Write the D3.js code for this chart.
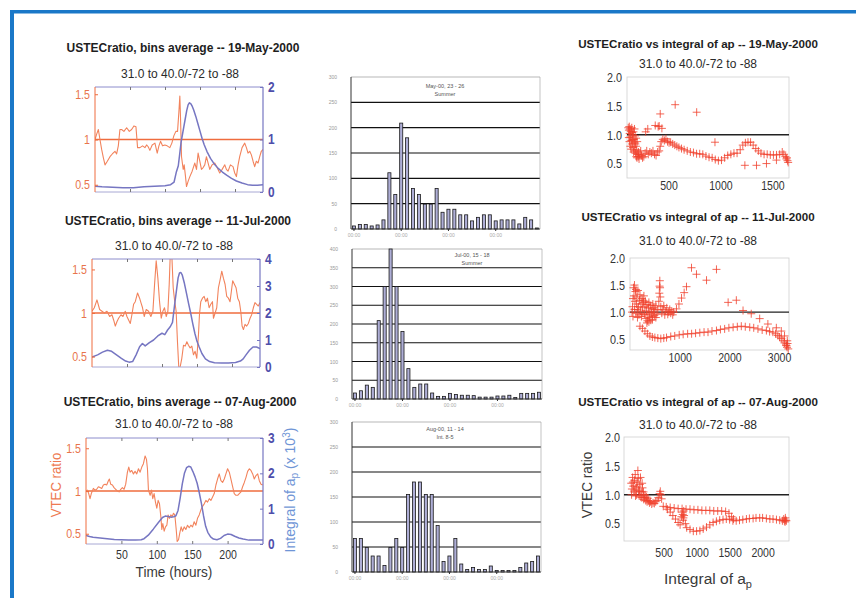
<!DOCTYPE html>
<html>
<head>
<meta charset="utf-8">
<script src="https://cdn.jsdelivr.net/npm/d3@7"></script>
<style>
body { margin: 0; background: #fff; }
svg { display: block; font-family: "Liberation Sans", Arial, sans-serif; }
</style>
</head>
<body>
<svg id="fig" width="856" height="598"></svg>
<script>
/*
 *  DATA
 */
// left column: [hour, VTEC ratio] and [hour, integral of ap (x 10^3)]
var may19Ratio = [[0,1.00],[2.4,1.06],[4.8,1.11],[7.1,1.00],[9.5,0.89],[11.9,0.80],[14.3,0.72],[17.6,0.76],[21.4,0.81],[24.7,0.84],[28.5,0.87],[30.9,0.84],[33.3,0.93],[35.6,1.11],[38,1.11],[41.3,1.09],[45.2,1.13],[49,1.09],[52.3,1.11],[55.6,1.15],[58.5,1.14],[60.8,0.91],[64.2,0.91],[68,0.93],[71.3,0.91],[73.7,0.94],[76,0.92],[78.4,0.88],[81.7,0.94],[85.6,0.96],[88.9,0.85],[91.3,0.93],[93.6,0.98],[96.5,0.93],[99.8,0.94],[103.1,0.93],[106.9,0.91],[109.8,0.96],[112.6,1.04],[115.5,1.09],[117.9,1.09],[119.8,1.30],[121.2,1.48],[122.1,1.26],[123.6,0.81],[126,0.67],[127.4,0.72],[129.3,0.59],[130.7,0.48],[133.1,0.54],[135.5,0.59],[138.8,0.65],[142.6,0.74],[145,0.67],[147.3,0.85],[149.7,0.76],[152.1,0.67],[154.5,0.69],[156.8,0.72],[159.2,0.81],[161.6,0.74],[164,0.67],[167.3,0.72],[171.1,0.74],[174.4,0.69],[178.2,0.63],[181.6,0.67],[185.4,0.72],[187.7,0.67],[190.1,0.65],[193.4,0.72],[197.2,0.70],[199.6,0.63],[202,0.59],[204.4,0.72],[206.7,0.81],[210.1,0.91],[213.9,0.96],[216.3,0.91],[218.6,0.85],[221,0.87],[223.4,0.83],[225.8,0.76],[228.1,0.70],[230.5,0.76],[232.9,0.74],[235.3,0.81],[237.6,0.87],[240,0.89]];
var may19Integral = [[0,0.11],[10,0.10],[25,0.09],[40,0.08],[55,0.08],[70,0.10],[85,0.11],[100,0.12],[108,0.14],[113,0.19],[116,0.37],[119,0.50],[121,0.72],[123,0.95],[125,1.10],[127,1.25],[129,1.40],[131,1.55],[133,1.66],[135,1.70],[137,1.68],[139,1.63],[141,1.56],[144,1.44],[147,1.30],[150,1.16],[153,1.02],[156,0.90],[160,0.77],[165,0.64],[170,0.54],[176,0.45],[182,0.38],[188,0.32],[195,0.26],[202,0.21],[210,0.17],[218,0.14],[225,0.13],[232,0.13],[240,0.14]];

var jul11Ratio = [[0,1.02],[3.3,1.06],[7.1,1.15],[10.9,1.04],[14.3,1.02],[17.6,1.00],[21.4,1.02],[25.2,0.96],[28.5,0.98],[30.9,0.92],[33.3,0.85],[35.6,0.90],[38,0.94],[41.4,0.98],[44.2,0.96],[47.5,1.02],[49.9,0.96],[52.3,0.92],[54.7,0.88],[57,0.98],[59.4,1.10],[61.8,1.13],[65.1,1.23],[68,1.17],[69.9,1.12],[72.2,1.06],[74.6,0.96],[77.5,1.04],[80.8,1.02],[84.1,0.96],[87,1.02],[89.4,1.33],[91.7,1.60],[94.1,1.40],[96.5,1.13],[98.9,0.94],[101.2,1.02],[103.6,1.06],[106,0.96],[108.4,1.02],[110.3,1.33],[111.7,1.65],[114.1,1.65],[116,1.29],[117.9,1.15],[120.2,1.02],[122.1,0.67],[124,0.37],[125.9,0.38],[128.3,0.48],[130.7,0.63],[133.1,0.62],[135.5,0.67],[137.8,0.63],[140.2,0.60],[142.6,0.62],[145,0.52],[147.3,0.56],[149.7,0.48],[152.1,0.75],[153.5,0.98],[155.4,1.13],[157.8,1.17],[160.2,1.19],[162.5,1.13],[164.9,1.17],[167.3,1.06],[169.7,1.10],[172.1,1.13],[173.5,0.94],[175.9,1.00],[178.2,1.06],[180.6,1.29],[183,1.38],[185.4,1.48],[187.7,1.40],[190.1,1.33],[192.5,1.19],[194.9,1.17],[197.2,1.13],[199.1,1.25],[201,1.37],[203.4,1.33],[205.8,1.29],[208.2,1.17],[210.5,1.13],[212.5,1.02],[214.4,0.85],[216.3,0.81],[218.6,0.87],[221,0.85],[223.4,0.88],[225.8,0.94],[228.1,0.98],[230.5,1.06],[232.8,1.12],[235.2,1.10],[237.6,1.08],[240,1.12]];
var jul11Integral = [[0,0.37],[8,0.45],[15,0.55],[22,0.62],[28,0.58],[35,0.45],[42,0.32],[48,0.22],[53,0.18],[58,0.20],[63,0.45],[68,0.75],[72,0.87],[76,0.78],[82,0.90],[88,1.00],[94,1.15],[100,1.25],[104,1.20],[108,1.37],[112,1.50],[115,1.65],[118,2.30],[121,2.90],[123,3.30],[125,3.48],[127,3.50],[129,3.40],[132,3.10],[135,2.73],[138,2.35],[141,1.99],[144,1.60],[147,1.24],[150,0.95],[153,0.75],[157,0.50],[162,0.30],[168,0.20],[175,0.16],[185,0.15],[195,0.15],[205,0.17],[212,0.22],[216,0.30],[220,0.45],[225,0.62],[230,0.74],[235,0.74],[240,0.68]];

var aug07Ratio = [[0,0.99],[1.9,1.01],[3.8,0.97],[5.7,0.91],[7.5,0.97],[10.4,1.03],[12.7,1.01],[15.1,1.02],[17.5,1.05],[19.8,1.04],[22.2,1.03],[24.5,1.07],[26.9,1.08],[29.2,1.07],[31.6,1.12],[33,1.14],[34.9,1.08],[37.3,1.07],[39.6,1.04],[42,1.02],[44.3,1.00],[46.7,0.99],[49.1,1.02],[51.4,1.04],[53.8,1.02],[56.1,1.08],[58.5,1.22],[60.4,1.28],[62.3,1.22],[64.6,1.24],[67,1.20],[69.3,1.23],[71.7,1.20],[74.1,1.26],[76.4,1.22],[78.8,1.28],[81.1,1.32],[83.5,1.41],[85.4,1.37],[86.8,1.26],[88.2,1.01],[90.6,0.95],[92.5,1.01],[94.3,0.91],[96.2,0.97],[98.1,0.87],[100,0.80],[101.9,0.89],[103.8,0.85],[105.7,0.70],[107.1,0.55],[108.5,0.62],[110.4,0.53],[112.3,0.58],[114.2,0.60],[116,0.72],[117.9,0.68],[119.8,0.72],[121.7,0.70],[123.6,0.74],[125.5,0.72],[127.4,0.55],[128.8,0.41],[130.7,0.43],[132.5,0.51],[134.4,0.58],[136.3,0.53],[138.7,0.58],[141,0.55],[143.4,0.60],[145.8,0.57],[148.1,0.60],[150.5,0.58],[152.8,0.64],[155.2,0.60],[157.5,0.68],[159.9,0.72],[162.3,0.78],[164.6,0.82],[167,0.85],[169.3,0.89],[171.7,0.87],[174.1,0.91],[176.4,0.89],[178.8,0.93],[181.1,0.97],[183.5,1.07],[185.8,1.14],[188.2,1.20],[190.6,1.12],[192.9,1.10],[195.3,1.14],[197.6,1.20],[200,1.26],[202.4,1.22],[204.7,1.14],[207.1,1.05],[209.4,0.97],[211.8,0.95],[214.2,0.95],[216.5,0.97],[218.9,0.99],[221.2,1.05],[223.6,1.10],[226,1.16],[228.3,1.23],[230.7,1.26],[233,1.24],[235.4,1.20],[237.7,1.14],[240.1,1.18],[242.5,1.20],[244.8,1.12],[247.2,1.08],[249.5,1.07]];
var aug07Integral = [[0,0.24],[5,0.21],[10,0.19],[20,0.17],[30,0.15],[40,0.13],[50,0.12],[60,0.11],[70,0.11],[78,0.12],[82,0.15],[88,0.25],[95,0.42],[102,0.60],[108,0.75],[112,0.79],[116,0.78],[120,0.76],[124,0.77],[127,0.80],[130,0.95],[133,1.30],[136,1.70],[139,2.00],[142,2.16],[145,2.20],[148,2.18],[151,2.05],[154,1.90],[157,1.72],[160,1.45],[163,1.15],[166,0.80],[169,0.50],[172,0.33],[176,0.20],[180,0.14],[185,0.12],[190,0.16],[195,0.24],[200,0.28],[205,0.27],[210,0.22],[216,0.17],[222,0.14],[230,0.11],[240,0.11],[250,0.11]];

// middle column: counts per 3-hour bin over four days
var histHours = d3.range(0, 96, 3);
var may23Counts = [6,9,9,6,8,18,111,68,209,180,80,68,49,49,80,33,39,39,28,28,16,23,28,28,16,18,18,18,10,23,18,2];
var jul15Counts = [16,22,37,31,209,300,400,300,180,81,31,40,40,16,7,7,15,12,10,10,9,5,5,5,8,8,10,4,15,15,15,18];
var aug11Counts = [67,67,49,32,32,13,49,67,49,155,180,180,155,155,93,21,32,67,16,5,9,5,5,12,3,3,3,3,9,18,21,32];

// right column: [integral of ap, VTEC ratio]
var may19Scatter = [[112,1.12],[118,1.08],[122,1.14],[126,1.02],[130,1.10],[134,0.96],[138,1.06],[142,0.90],[146,1.12],[150,0.84],[154,1.00],[158,0.78],[162,1.05],[166,0.92],[170,0.72],[174,0.86],[178,0.98],[182,0.68],[186,0.80],[190,0.62],[194,0.74],[198,0.88],[204,0.66],[210,0.70],[118,0.95],[124,0.88],[132,0.80],[140,0.75],[148,1.04],[156,0.92],[164,0.70],[172,1.10],[180,0.84],[188,0.94],[196,0.60],[208,0.62],[216,0.58],[224,0.66],[232,0.72],[240,0.64],[250,0.60],[262,0.62],[275,0.68],[290,0.72],[305,0.66],[320,0.70],[335,0.68],[350,0.72],[365,0.66],[380,0.64],[395,0.70],[410,0.72],[420,0.80],[430,0.88],[445,0.92],[460,0.90],[475,0.93],[490,0.88],[505,0.86],[520,0.87],[540,0.84],[560,0.82],[580,0.80],[600,0.78],[625,0.76],[650,0.74],[680,0.72],[710,0.70],[740,0.69],[770,0.67],[800,0.67],[830,0.66],[860,0.63],[890,0.61],[920,0.60],[950,0.57],[980,0.55],[1010,0.56],[1040,0.60],[1070,0.64],[1100,0.66],[1130,0.68],[1160,0.68],[1190,0.74],[1215,0.82],[1240,0.86],[1265,0.87],[1290,0.87],[1315,0.82],[1340,0.76],[1365,0.72],[1390,0.68],[1420,0.66],[1450,0.66],[1480,0.65],[1510,0.65],[1540,0.65],[1570,0.66],[1595,0.70],[1610,0.66],[1625,0.62],[1635,0.58],[1645,0.55],[1652,0.52],[1640,0.60],[280,1.05],[300,1.10],[372,1.16],[400,1.14],[410,1.15],[420,1.36],[436,1.11],[564,1.52],[771,1.39],[947,0.87],[1235,0.47],[1347,0.47],[1443,0.50],[1539,0.56]];
var jul11Scatter = [[40,1.00],[50,1.10],[60,1.25],[70,1.45],[80,1.30],[90,1.05],[100,1.20],[110,1.38],[120,0.98],[130,1.15],[140,1.28],[150,1.05],[160,1.40],[170,1.10],[180,0.95],[190,1.22],[200,1.32],[210,1.02],[220,1.15],[230,0.92],[240,1.25],[250,1.08],[260,0.98],[270,1.18],[280,1.30],[290,0.96],[300,1.10],[310,1.20],[320,0.88],[330,1.02],[340,1.14],[350,0.84],[360,0.95],[370,1.08],[380,1.18],[390,0.90],[400,1.00],[410,1.12],[420,0.85],[430,0.98],[440,1.06],[450,0.92],[460,1.15],[470,1.00],[480,1.08],[490,0.94],[500,1.05],[520,1.12],[540,0.96],[560,1.04],[580,1.20],[590,1.35],[595,1.48],[600,1.58],[605,1.45],[610,1.28],[620,1.10],[640,0.98],[660,1.05],[680,1.12],[700,0.95],[720,1.02],[740,1.08],[760,0.96],[780,1.00],[800,1.05],[820,0.98],[840,1.02],[860,0.95],[880,1.00],[60,0.92],[90,1.50],[120,1.42],[150,0.90],[260,1.22],[340,0.80],[380,0.82],[450,0.86],[520,0.90],[200,0.74],[250,0.70],[300,0.65],[350,0.60],[400,0.56],[450,0.54],[500,0.53],[560,0.52],[620,0.51],[680,0.52],[735,0.53],[820,0.55],[900,0.56],[990,0.58],[1070,0.59],[1160,0.60],[1240,0.60],[1320,0.61],[1405,0.62],[1490,0.63],[1570,0.63],[1650,0.65],[1740,0.66],[1820,0.68],[1905,0.69],[1990,0.71],[2075,0.72],[2160,0.73],[2240,0.74],[2320,0.73],[2410,0.72],[2490,0.71],[2575,0.69],[2660,0.67],[2745,0.66],[2810,0.64],[2875,0.63],[2930,0.60],[2975,0.57],[3010,0.54],[3045,0.51],[3080,0.47],[3110,0.43],[3140,0.39],[3160,0.35],[3185,0.32],[3170,0.42],[3150,0.38],[935,1.06],[985,1.15],[1037,1.26],[1090,1.36],[1137,1.47],[1238,1.82],[1338,1.70],[1540,1.59],[1740,1.79],[1975,1.18],[2140,1.22],[2275,1.03],[2440,0.97],[2610,0.88],[2775,0.78],[2945,0.71],[3045,0.65],[3110,0.56],[3165,0.47]];
var aug07Scatter = [[10,1.20],[20,1.10],[30,1.30],[40,1.15],[50,1.05],[60,1.25],[70,1.35],[80,1.12],[90,1.00],[100,1.22],[110,1.42],[120,1.08],[130,0.98],[140,1.18],[150,1.30],[160,1.05],[170,0.95],[180,1.12],[190,1.00],[200,0.92],[15,1.00],[35,1.22],[55,1.08],[75,0.98],[95,1.15],[115,1.28],[135,1.06],[155,0.96],[175,1.20],[195,1.05],[210,0.95],[220,1.00],[230,0.90],[240,0.96],[250,0.88],[260,0.94],[270,0.90],[285,0.86],[300,0.88],[320,0.84],[340,0.86],[360,0.85],[380,0.88],[400,0.90],[420,0.95],[440,1.02],[450,1.06],[460,1.00],[470,0.93],[495,0.80],[540,0.79],[600,0.78],[660,0.77],[720,0.76],[780,0.76],[840,0.75],[900,0.75],[960,0.74],[1020,0.74],[1080,0.73],[1140,0.73],[1200,0.73],[1260,0.72],[1320,0.72],[1380,0.72],[1440,0.71],[1490,0.68],[1530,0.62],[1560,0.58],[560,0.75],[600,0.70],[640,0.64],[680,0.58],[720,0.52],[750,0.48],[770,0.62],[780,0.70],[790,0.66],[800,0.60],[805,0.72],[795,0.56],[810,0.64],[830,0.50],[850,0.43],[900,0.40],[950,0.37],[1000,0.37],[1050,0.38],[1100,0.41],[1150,0.44],[1200,0.48],[1250,0.52],[1300,0.54],[1350,0.56],[1400,0.57],[1450,0.58],[1500,0.57],[1550,0.55],[1600,0.55],[1650,0.56],[1700,0.57],[1755,0.58],[1800,0.59],[1856,0.59],[1900,0.60],[1956,0.60],[2000,0.60],[2057,0.59],[2110,0.58],[2158,0.58],[2210,0.57],[2259,0.56],[2300,0.55],[2320,0.58],[2340,0.53],[2350,0.56],[2360,0.55],[2330,0.55],[2345,0.60]];

var orange = '#ef6c3e';
var orangeLine = '#f2835c';
var purple = '#7676c2';
var purpleText = '#4e4eab';

var svg = d3.select('#fig');

// page frame
svg.append('rect').attr('x', 10).attr('y', 10).attr('width', 846).attr('height', 3.5).attr('fill', '#1a78c8');
svg.append('rect').attr('x', 10).attr('y', 10).attr('width', 4).attr('height', 588).attr('fill', '#1a78c8');

function styleAxis(ax, size, color, weight) {
    ax.attr('font-family', null).attr('font-size', size);
    ax.selectAll('text').attr('fill', color).attr('font-weight', weight || 'normal');
}

// the original figure uses a narrow font: squeeze the text horizontally
function condense(sel, k) {
    sel.each(function() {
        var w = this.getComputedTextLength();
        d3.select(this).attr('textLength', w * k).attr('lengthAdjust', 'spacingAndGlyphs');
    });
}

/*
 *  LEFT COLUMN: ratio and integral of ap vs time
 */
function drawTimePanel(c) {
    var x = d3.scaleLinear().domain(c.xDomain).range([c.x0, c.x1]);
    var yL = d3.scaleLinear().domain(c.ratioDomain).range([c.y1, c.y0]);
    var yR = d3.scaleLinear().domain([0, c.intMax]).range([c.y1, c.y0]);
    var g = svg.append('g');

    g.append('text').attr('x', c.titleX).attr('y', c.titleY)
        .attr('text-anchor', 'middle').attr('font-size', 12).attr('font-weight', 'bold').attr('fill', '#1e1e1e')
        .text(c.title);
    g.append('text').attr('x', c.subX).attr('y', c.subY)
        .attr('text-anchor', 'middle').attr('font-size', 12).attr('fill', '#2a2a2a')
        .text('31.0 to 40.0/-72 to -88');

    svg.append('clipPath').attr('id', 'clip' + c.id)
        .append('rect').attr('x', c.x0).attr('y', c.y0).attr('width', c.x1 - c.x0).attr('height', c.y1 - c.y0);
    var plot = g.append('g').attr('clip-path', 'url(#clip' + c.id + ')');

    plot.append('line')
        .attr('x1', c.x0).attr('x2', c.x1).attr('y1', yL(1)).attr('y2', yL(1))
        .attr('stroke', orange).attr('stroke-width', 1.6);

    var ratioLine = d3.line().x(function(d) { return x(d[0]); }).y(function(d) { return yL(d[1]); });
    plot.append('path').datum(c.ratio)
        .attr('fill', 'none').attr('stroke', orangeLine).attr('stroke-width', 1.1)
        .attr('stroke-linejoin', 'round').attr('d', ratioLine);

    var intLine = d3.line().x(function(d) { return x(d[0]); }).y(function(d) { return yR(d[1]); });
    plot.append('path').datum(c.integral)
        .attr('fill', 'none').attr('stroke', purple).attr('stroke-width', 1.5)
        .attr('stroke-linejoin', 'round').attr('d', intLine);

    // box edges
    g.append('line').attr('x1', c.x0).attr('x2', c.x1).attr('y1', c.y0).attr('y2', c.y0).attr('stroke', '#8c8ccc');
    g.append('line').attr('x1', c.x0).attr('x2', c.x1).attr('y1', c.y1).attr('y2', c.y1).attr('stroke', '#a8a8d4');
    g.append('line').attr('x1', c.x0).attr('x2', c.x0).attr('y1', c.y0).attr('y2', c.y1).attr('stroke', orange);
    g.append('line').attr('x1', c.x1).attr('x2', c.x1).attr('y1', c.y0).attr('y2', c.y1).attr('stroke', purple).attr('stroke-width', 1.2);

    var axL = g.append('g').attr('transform', 'translate(' + c.x0 + ',0)')
        .call(d3.axisLeft(yL).tickValues([0.5, 1, 1.5]).tickSize(-3).tickPadding(5).tickFormat(d3.format('~g')));
    axL.select('.domain').remove();
    axL.selectAll('line').attr('stroke', orange);
    styleAxis(axL, 13, '#e8744c');
    condense(axL.selectAll('text'), 0.82);

    var axR = g.append('g').attr('transform', 'translate(' + c.x1 + ',0)')
        .call(d3.axisRight(yR).tickValues(d3.range(0, c.intMax + 1)).tickSize(-3).tickPadding(5).tickFormat(d3.format('d')));
    axR.select('.domain').remove();
    axR.selectAll('line').attr('stroke', purple);
    styleAxis(axR, 14, purpleText, 'bold');
    condense(axR.selectAll('text'), 0.85);

    var axT = g.append('g').attr('transform', 'translate(0,' + c.y0 + ')')
        .call(d3.axisTop(x).tickValues([50, 100, 150, 200]).tickSize(-3).tickFormat(''));
    axT.select('.domain').remove();
    axT.selectAll('line').attr('stroke', '#777');

    var axB = g.append('g').attr('transform', 'translate(0,' + c.y1 + ')')
        .call(d3.axisBottom(x).tickValues([50, 100, 150, 200]).tickSize(-3).tickPadding(5)
            .tickFormat(c.xLabels ? d3.format('d') : ''));
    axB.select('.domain').remove();
    axB.selectAll('line').attr('stroke', '#777');
    styleAxis(axB, 13.5, '#333');
    if (c.xLabels) { condense(axB.selectAll('text'), 0.78); }
}

drawTimePanel({id: 'p1', title: 'USTECratio, bins average -- 19-May-2000', titleX: 183, titleY: 52, subX: 180, subY: 77.5,
    x0: 95, x1: 263, y0: 87, y1: 192, xDomain: [0, 240], ratioDomain: [0.42, 1.58], intMax: 2,
    ratio: may19Ratio, integral: may19Integral});
drawTimePanel({id: 'p2', title: 'USTECratio, bins average -- 11-Jul-2000', titleX: 178, titleY: 225, subX: 174, subY: 249.5,
    x0: 92, x1: 260, y0: 259, y1: 367, xDomain: [0, 240], ratioDomain: [0.38, 1.62], intMax: 4,
    ratio: jul11Ratio, integral: jul11Integral});
drawTimePanel({id: 'p3', title: 'USTECratio, bins average -- 07-Aug-2000', titleX: 180, titleY: 406, subX: 174, subY: 428,
    x0: 86, x1: 263, y0: 438, y1: 544, xDomain: [0, 250], ratioDomain: [0.38, 1.62], intMax: 3,
    ratio: aug07Ratio, integral: aug07Integral, xLabels: true});

var timeLabel = svg.append('text').attr('x', 174).attr('y', 577).attr('text-anchor', 'middle')
    .attr('font-size', 15.5).attr('fill', '#3a3a3a').text('Time (hours)');
condense(timeLabel, 0.88);
var vtecLeft = svg.append('text').attr('transform', 'translate(61,485)rotate(-90)').attr('text-anchor', 'middle')
    .attr('font-size', 15).attr('fill', '#ee7a52').text('VTEC ratio');
condense(vtecLeft, 0.88);
var intLabel = svg.append('text').attr('transform', 'translate(295,490)rotate(-90)').attr('text-anchor', 'middle')
    .attr('font-size', 14).attr('fill', '#6f95d6');
intLabel.append('tspan').text('Integral of a');
intLabel.append('tspan').attr('font-size', 10).attr('dy', 3).text('p');
intLabel.append('tspan').attr('dy', -3).text(' (x 10');
intLabel.append('tspan').attr('font-size', 10).attr('dy', -5).text('3');
intLabel.append('tspan').attr('dy', 5).text(')');

/*
 *  MIDDLE COLUMN: histograms
 */
function drawHistogram(c) {
    var x = d3.scaleBand().domain(histHours).range([c.x0, c.x1]).paddingInner(0.48).paddingOuter(0.24);
    var y = d3.scaleLinear().domain([0, c.yMax]).range([c.y1, c.y0]);
    var g = svg.append('g');
    var ticks = d3.range(0, c.yMax + 1, 50);

    g.selectAll('.grid').data(ticks.slice(1))
        .enter().append('line')
        .attr('x1', c.x0).attr('x2', c.x1)
        .attr('y1', function(d) { return y(d); }).attr('y2', function(d) { return y(d); })
        .attr('stroke', function(d) { return d === c.yMax ? '#9a9a9a' : '#111'; })
        .attr('stroke-width', function(d) { return d === c.yMax ? 0.7 : 1.1; });
    g.append('line').attr('x1', c.x1).attr('x2', c.x1).attr('y1', c.y0).attr('y2', c.y1).attr('stroke', '#aaa').attr('stroke-width', 0.7);

    g.selectAll('.bar').data(c.counts)
        .enter().append('rect')
        .attr('x', function(d, i) { return x(histHours[i]); })
        .attr('width', x.bandwidth())
        .attr('y', function(d) { return y(d); })
        .attr('height', function(d) { return c.y1 - y(d); })
        .attr('fill', '#aeaed6').attr('stroke', '#1a1a1a').attr('stroke-width', 0.8);

    g.append('line').attr('x1', c.x0).attr('x2', c.x0).attr('y1', c.y0).attr('y2', c.y1).attr('stroke', '#333');
    g.append('line').attr('x1', c.x0).attr('x2', c.x1).attr('y1', c.y1).attr('y2', c.y1).attr('stroke', '#333');

    var axL = g.append('g').attr('transform', 'translate(' + c.x0 + ',0)')
        .call(d3.axisLeft(y).tickValues(ticks).tickSize(0).tickPadding(14));
    axL.select('.domain').remove();
    styleAxis(axL, 5, '#999');

    var labelled = histHours.filter(function(h) { return h % 24 === 0; });
    var axB = g.append('g').attr('transform', 'translate(0,' + c.y1 + ')')
        .call(d3.axisBottom(x).tickValues(labelled).tickSize(2).tickPadding(2).tickFormat(function() { return '00:00'; }));
    axB.select('.domain').remove();
    axB.selectAll('line').attr('stroke', '#333');
    styleAxis(axB, 5, '#aaa');

    c.note.forEach(function(t, i) {
        g.append('text').attr('x', c.noteX).attr('y', c.noteY + i * 8)
            .attr('text-anchor', 'middle').attr('font-size', 5.5).attr('fill', '#555').text(t);
    });
}

drawHistogram({x0: 351, x1: 540, y0: 77, y1: 229, yMax: 300, counts: may23Counts,
    note: ['May-00, 23 - 26', 'Summer'], noteX: 445, noteY: 88});
drawHistogram({x0: 352, x1: 542, y0: 249, y1: 399, yMax: 400, counts: jul15Counts,
    note: ['Jul-00, 15 - 18', 'Summer'], noteX: 472, noteY: 257});
drawHistogram({x0: 352, x1: 541, y0: 422, y1: 572, yMax: 300, counts: aug11Counts,
    note: ['Aug-00, 11 - 14', 'Int. 8-5'], noteX: 445, noteY: 431});

/*
 *  RIGHT COLUMN: ratio vs integral of ap
 */
function drawScatter(c) {
    var x = d3.scaleLinear().domain(c.xDomain).range([c.x0, c.x1]);
    var y = d3.scaleLinear().domain(c.yDomain).range([c.y1, c.y0]);
    var g = svg.append('g');

    g.append('text').attr('x', 698).attr('y', c.titleY)
        .attr('text-anchor', 'middle').attr('font-size', 11.6).attr('font-weight', 'bold').attr('fill', '#1e1e1e')
        .text(c.title);
    g.append('text').attr('x', 698).attr('y', c.subY)
        .attr('text-anchor', 'middle').attr('font-size', 12).attr('fill', '#2a2a2a')
        .text('31.0 to 40.0/-72 to -88');

    g.append('rect').attr('x', c.x0).attr('y', c.y0).attr('width', c.x1 - c.x0).attr('height', c.y1 - c.y0)
        .attr('fill', 'none').attr('stroke', '#cfcfcf').attr('stroke-width', 0.8);
    g.append('line').attr('x1', c.x0).attr('x2', c.x1).attr('y1', y(1)).attr('y2', y(1))
        .attr('stroke', '#222').attr('stroke-width', 1.4);

    g.selectAll('.pt').data(c.points)
        .enter().append('path')
        .attr('d', function(d) {
            var px = x(d[0]), py = y(d[1]);
            return 'M' + (px - 4) + ',' + py + 'H' + (px + 4) + 'M' + px + ',' + (py - 4) + 'V' + (py + 4);
        })
        .attr('stroke', '#f0402c').attr('stroke-width', 1).attr('stroke-opacity', 0.8);

    var axL = g.append('g').attr('transform', 'translate(' + c.x0 + ',0)')
        .call(d3.axisLeft(y).tickValues([0.5, 1, 1.5, 2]).tickSize(0).tickPadding(c.yPad).tickFormat(d3.format('.1f')));
    axL.select('.domain').remove();
    styleAxis(axL, 13.5, '#333');
    condense(axL.selectAll('text'), 0.8);

    var axB = g.append('g').attr('transform', 'translate(0,' + c.y1 + ')')
        .call(d3.axisBottom(x).tickValues(c.xTicks).tickSize(0).tickPadding(c.xPad).tickFormat(d3.format('d')));
    axB.select('.domain').remove();
    styleAxis(axB, 13.5, '#333');
    condense(axB.selectAll('text'), 0.78);
}

drawScatter({title: 'USTECratio vs integral of ap -- 19-May-2000', titleY: 47.5, subY: 68,
    x0: 627, x1: 789, y0: 77, y1: 178, xDomain: [100, 1660], yDomain: [0.25, 2.0],
    xTicks: [500, 1000, 1500], xPad: 2, yPad: 5, points: may19Scatter});
drawScatter({title: 'USTECratio vs integral of ap -- 11-Jul-2000', titleY: 221, subY: 245,
    x0: 630, x1: 789, y0: 258, y1: 350, xDomain: [0, 3200], yDomain: [0.3, 2.0],
    xTicks: [1000, 2000, 3000], xPad: 2, yPad: 5, points: jul11Scatter});
drawScatter({title: 'USTECratio vs integral of ap -- 07-Aug-2000', titleY: 406, subY: 429,
    x0: 624, x1: 789, y0: 437, y1: 541, xDomain: [-100, 2400], yDomain: [0.2, 2.0],
    xTicks: [500, 1000, 1500, 2000], xPad: 6, yPad: 4, points: aug07Scatter});

var vtecRight = svg.append('text').attr('transform', 'translate(592,485)rotate(-90)').attr('text-anchor', 'middle')
    .attr('font-size', 15.5).attr('fill', '#3a3a3a').text('VTEC ratio');
condense(vtecRight, 0.88);
var apLabel = svg.append('text').attr('x', 708).attr('y', 584).attr('text-anchor', 'middle')
    .attr('font-size', 15.5).attr('fill', '#3a3a3a');
apLabel.append('tspan').text('Integral of a');
apLabel.append('tspan').attr('font-size', 11).attr('dy', 4).text('p');
</script>
</body>
</html>
